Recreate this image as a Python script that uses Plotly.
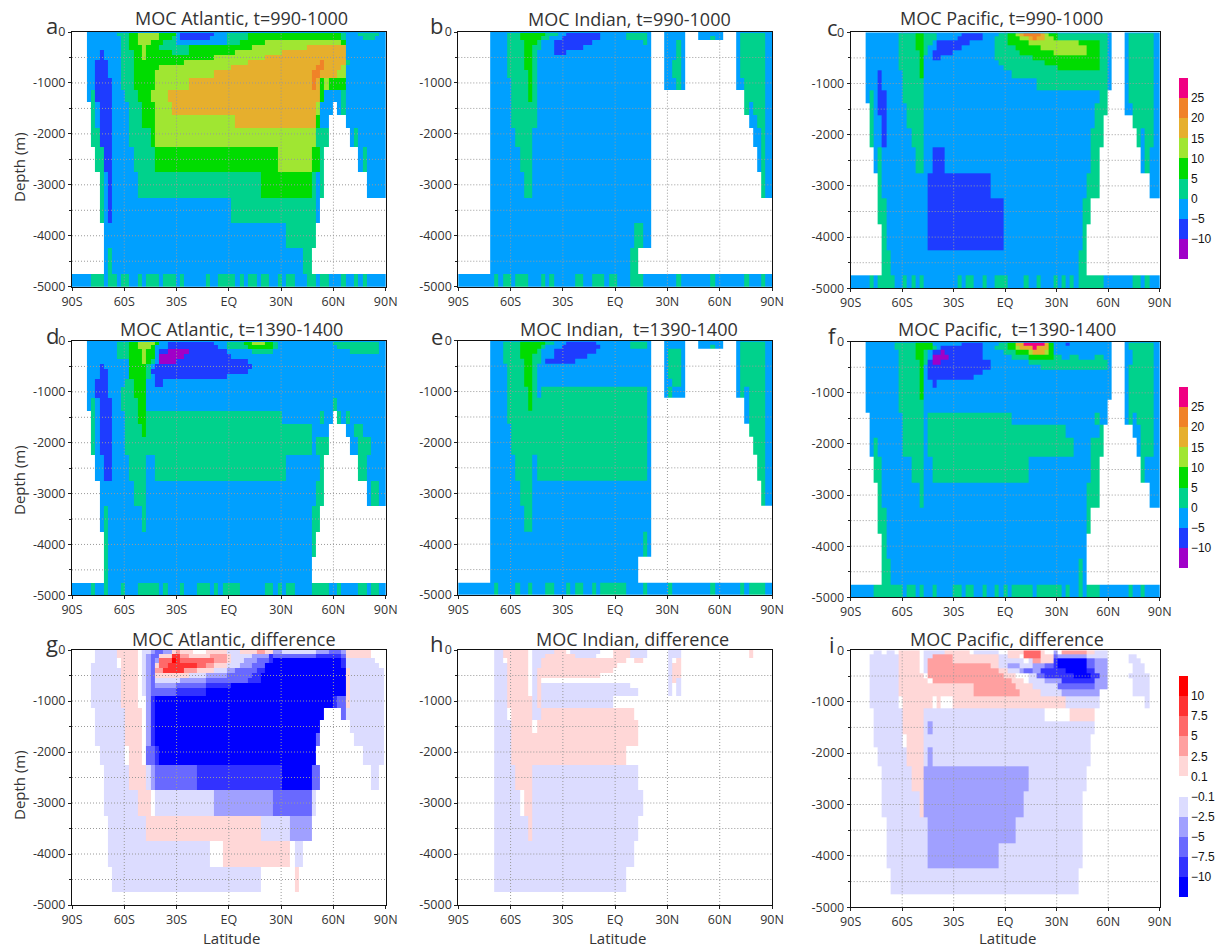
import numpy as np
import plotly.graph_objects as go

# 21 depth layers (m) and 75 latitude points, 90S..90N
DEPTH_EDGES = [0, 25, 75, 150, 250, 350, 450, 550, 650, 750, 900, 1130, 1380, 1630, 1880,
               2250, 2750, 3250, 3750, 4250, 4750, 5000]
N_LAT = 75

# each row (top to bottom): "<first lat index><class>" runs, white before the first run
ATL_990 = [
    "4s",
    "4s 11t 14g 16l 21g 25s 26B 34s 37t 42g 64t 65s 68t 73s",
    "4s 12t 14g 16l 21g 24t 25s 26B 33s 37t 42g 64t 65s 69t 72s",
    "4s 12t 14g 16l 19g 22t 25s 37t 40g 46l 64g 65s",
    "4s 12t 14g 17l 18g 21t 28g 43l 56a 65s",
    "4s 7B 8s 12t 15g 17l 18g 24t 28g 39l 50a 65s",
    "4s 7B 8s 12t 15g 17l 18g 34l 46a 65s",
    "4s 6B 9s 12t 15g 27l 42a 59o 60a 65t 66s",
    "4s 6B 9s 12t 15g 21l 38a 58o 60a 64l 65s",
    "4s 6B 9s 12t 15g 20l 34a 57o 59a 63l 65s",
    "4s 6B 10s 12t 15g 20l 28a 57o 58a 59g 60l 61g 65s",
    "4s 5t 6B 10s 13t 16g 19l 23a 59g 60s 64t 65s",
    "5t 6s 7B 10s 14t 17g 20l 24a 58l 59s 62. 63s 64t 65s",
    "5t 6s 7B 10s 14t 17g 20l 39a 58g 59s 61. 65s",
    "5t 7B 10s 14t 19g 20l 58t 61. 66s 67t 68s",
    "6t 8B 10s 15t 20g 49l 57g 59t 60. 68s 69t 70s",
    "7t 8s 9B 10s 16t 45g 57t 58s 59t 60. 70s",
    "7t 8s 9B 10s 38t 58s 59.",
    "8s 51t 58.",
    "8s 9t 10s 55t 57.",
    "0s 5t 8s 9t 11s 12t 14s 16t 17s 18t 21s 22t 25s 26t 27s 32t 33s 35t 39s 40t 41s 42t 44s 45t 47s 49t 50s 51t 53s 56t 58s 59t 61s 64t 65s 67t 68s 69t 70s",
]
IND_990 = [
    "8s 46. 49s 54. 57s 63. 66s",
    "8s 12t 15g 21t 24s 26B 34s 40t 45s 46. 49s 54. 57s 63. 66s 67t 73s",
    "8s 12t 15g 20t 22s 25B 34s 40t 45s 46. 49s 54. 57s 60t 61s 63. 66s 67t 73s",
    "8s 12t 16g 19t 20s 23B 32s 44t 45s 46. 49s 52t 53s 54. 66s 67t 73s",
    "8s 12t 16g 18t 20s 23B 30s 46. 49s 52t 53s 54. 66s 67t 73s",
    "8s 12t 16g 18t 19s 23B 26s 46. 49s 52t 53s 54. 66s 67t 73s",
    "8s 12t 16g 18t 19s 46. 49s 52t 53s 54. 66s 67t 73s",
    "8s 12t 16g 18t 19s 46. 49s 51t 53s 54. 66s 67t 73s",
    "8s 12t 16g 18t 19s 46. 49s 51t 53s 54. 66s 67t 73s",
    "8s 12t 17g 18t 19s 46. 49s 51t 53s 54. 66s 67t 73s",
    "8s 13t 17g 18t 19s 46. 49s 52t 53s 54. 66s 68t 73s",
    "8s 13t 17g 18t 19s 46. 68t 73s",
    "8s 13t 19s 46. 68t 69s 70t 73s",
    "8s 13t 19s 46. 69s 71t 73s",
    "8s 14t 18s 46. 70s 72t 73s",
    "8s 15t 18s 46. 71s 72t 73s",
    "8s 16t 18s 46. 72t 73s",
    "8s 46.",
    "8s 42t 44s 46.",
    "8s 41t 43.",
    "0s 9t 10s 11t 13s 14t 17s 20t 21s 22t 23s 28t 30s 32t 35s 36t 38s 41t 44s 52t 53s 60t 61s 68t 69s 72t 73s",
]
PAC_990 = [
    "4s 63. 66s",
    "4s 12t 16g 18t 21s 27B 32s 36t 38g 40l 41a 42o 46a 47l 48g 50t 62s 63. 66s 67t 73s",
    "4s 12t 16g 18t 21s 26B 32s 35t 38g 41l 43a 44o 45a 47l 49g 50t 62s 63. 66s 67t 73s",
    "4s 12t 16g 18t 20s 21B 29s 35t 38g 43l 55g 60t 62s 63. 66s 67t 73s",
    "4s 12t 16g 18t 19s 21B 27s 35t 40g 46l 57g 60t 62s 63. 66s 67t 73s",
    "4s 12t 17g 18t 19s 20B 25s 35t 41g 49l 57g 60t 62s 63. 66s 67t 73s",
    "4s 12t 17g 18s 20B 22s 35t 44g 60t 62s 63. 66s 67t 73s",
    "4s 12t 17g 18s 36t 47g 60t 62s 63. 66s 67t 73s",
    "4s 12t 17g 18s 37t 50g 60t 62s 63. 66s 67t 73s",
    "4s 7B 8s 13t 17g 18s 39t 62s 63. 66s 67t 73s",
    "4s 7B 8s 13t 18s 45t 62s 63. 66s 67t 73s",
    "4s 5t 6s 7B 9s 13t 18s 60t 62. 66s 67t 73s",
    "5t 6s 7B 9s 14t 18s 59t 62. 66s 68t 73s",
    "5t 6s 8B 9s 14t 18s 59t 61. 68t 73s",
    "5t 6s 8B 9s 15t 18s 58t 61. 69t 70s 71t 73s",
    "6s 7t 8s 16t 18s 20B 23s 58t 60. 70s 71t 72s",
    "7t 8s 19B 34s 57t 60. 72s",
    "7t 9s 19B 37s 56t 58.",
    "8t 9s 19B 37s 56t 57.",
    "8t 10s 55t 57.",
    "0s 5t 6s 7t 11s 13t 14s 15t 16s 17t 18s 26t 27s 28t 30s 32t 33s 35t 38s 42t 43s 45t 46s 49t 50s 51t 52s 53t 54s 55t 61s 68t 70s 71t 72s",
]
ATL_1390 = [
    "4s",
    "4s 11t 14g 16l 20g 21s 23B 34s 37t 41g 43l 46g 48t 49s 62t 73s",
    "4s 11t 14g 16l 19g 20s 23B 35s 37t 42g 48t 49s 63t 73s",
    "4s 11t 14g 17l 18g 20s 21B 23p 28B 37s 43t 48s 66t 73s",
    "4s 11t 14g 17l 18g 20s 21p 27B 38s",
    "4s 14g 17l 18g 19t 20s 21p 25B 42s",
    "4s 7B 8s 14g 18t 19s 20B 43s",
    "4s 7B 9s 14g 18t 19B 42s",
    "4s 7B 9s 14g 18t 19s 20B 37s",
    "4s 6B 9s 13t 15g 18s 20B 22s",
    "4s 6B 9s 12t 15g 18s",
    "4s 5t 6s 7B 10s 12t 16g 18s 62t 63s",
    "5t 6s 7B 10s 13t 16g 18t 50s 59t 60s 62. 63t 64s 65t 66s",
    "5t 6s 7B 10s 13t 17g 18t 57s 61. 65s 67t 69s",
    "5t 6s 7B 10s 13t 57s 58t 61. 66s 68t 71s",
    "6s 8B 10s 14t 18s 20t 51s 59t 60. 68t 70s",
    "7s 15t 18s 58t 60. 70s 71t 73s",
    "7s 8t 9s 17t 18s 57t 59.",
    "8t 9s 57t 58.",
    "8t 9s 57.",
    "0s 5t 6s 8t 9s 12t 13s 16t 21s 22t 23s 26t 27s 30t 33s 34t 35s 36t 40s 46t 48s 49t 50s 51t 53s 57t 61s 63t 64s 68t 70s 71t 73s",
]
IND_1390 = [
    "8s 46. 49s 54. 57s 63. 66s",
    "8s 11t 15g 21t 23s 26B 33s 41t 45s 46. 49s 54. 57s 63. 66s 67t 73s",
    "8s 11t 15g 20t 21s 25B 34s 41t 45s 46. 49s 54. 57s 60t 61s 63. 66s 67t 73s",
    "8s 11t 15g 19t 20s 23B 33s 46. 49s 50t 53s 54. 66s 67t 73s",
    "8s 11t 15g 18t 20s 23B 31s 46. 49s 50t 53s 54. 66s 67t 73s",
    "8s 11t 16g 18t 20s 21B 28s 46. 49s 50t 53s 54. 66s 67t 73s",
    "8s 12t 16g 18t 19s 46. 49s 50t 53s 54. 66s 67t 73s",
    "8s 12t 16g 18t 19s 46. 49s 50t 53s 54. 66s 67t 73s",
    "8s 12t 16g 18t 19s 46. 49s 50t 53s 54. 66s 67t 73s",
    "8s 12t 16g 18t 19s 46. 49s 51t 53s 54. 66s 67t 73s",
    "8s 12t 17g 18t 19s 20t 45s 46. 49s 50t 51s 54. 66s 67t 68s 69t 73s",
    "8s 12t 17g 18t 45s 46. 68s 69t 73s",
    "8s 12t 45s 46. 68s 69t 73s",
    "8s 13t 45s 46. 69t 73s",
    "8s 13t 45s 46. 70t 73s",
    "8s 14t 18s 19t 45s 46. 71t 73s",
    "8s 15t 18s 46. 72t 73s",
    "8s 16t 18s 46.",
    "8s 44t 45s 46.",
    "8s 43.",
    "0s 9t 10s 14t 15s 17t 18s 21t 23s 26t 27s 28t 30s 32t 33s 34t 40s 44t 45s 50t 51s 60t 61s 67t 68s 69t 73s",
]
PAC_1390 = [
    "4s 63. 66s",
    "4s 11t 16g 20s 27B 32s 36t 38g 40a 42k 47a 48g 49s 52B 53s 63. 66s 67t 73s",
    "4s 11t 16g 20t 21s 22B 32s 35t 38g 40l 41a 44k 45a 48g 49s 63. 66s 67t 73s",
    "4s 12t 16g 18t 19s 20B 22p 23B 32s 37t 40g 43l 44a 47l 48g 49s 63. 66s 68t 73s",
    "4s 12t 16g 18t 19s 20p 24B 32s 39t 43g 49t 51s 53t 55s 59t 61s 63. 66s 68t 73s",
    "4s 12t 17g 18t 19B 20p 22B 34s 43t 62s 63. 66s 68t 73s",
    "4s 12t 17g 18s 19B 34s 46t 62s 63. 66s 67t 73s",
    "4s 12t 17g 18s 19B 32s 63. 66s 67t 73s",
    "4s 12t 17g 18s 19B 30s 63. 66s 67t 73s",
    "4s 12t 17g 18s 20B 21s 63. 66s 67t 73s",
    "4s 12t 17g 18s 63. 66s 67t 73s",
    "4s 12t 18s 62. 66s 67t 73s",
    "5s 13t 18s 19t 39s 59t 60s 62. 66s 67t 68s 69t 73s",
    "5s 13t 18s 19t 52s 60t 61. 68s 70t 73s",
    "5s 6t 7s 13t 18s 19t 54s 58t 61. 69s 70t 73s",
    "6t 8s 15t 18s 20t 43s 58t 60. 70t 71s",
    "7t 8s 17t 18s 57t 60. 72s",
    "7t 9s 57t 58.",
    "8t 9s 57.",
    "8t 10s 55t 56s 57.",
    "0s 6t 13s 14t 16s 17t 18s 20t 21s 25t 27s 28t 30s 32t 33s 35t 36s 37t 38s 39t 44s 45t 51s 52t 53s 55t 56s 57t 60s 67t 68s 70t 71s",
]
ATL_DIFF = [
    "6A 11a 16. 17A 19B 20C 22B 24a 25b 26a 29. 32a 37A 40a 44b 46a 48B 50A 58B 61C 64B 65a 71.",
    "6A 11a 16. 17A 19B 20C 22B 24a 25b 26a 29. 32a 37A 40a 44b 46a 48B 50A 58B 61C 64B 65a 71.",
    "6A 11a 16. 17A 18B 19C 21a 24d 26b 28a 33b 37a 38A 43B 47D 48C 55C 58D 64C 65a 71.",
    "6A 11. 12a 16. 17A 18B 19C 20B 21c 24e 25d 26c 34b 37a 38A 41B 44C 47D 48E 64D 65A 72.",
    "5A 11. 12a 16. 17A 18B 19C 20a 21c 23d 30c 32b 34a 37A 40B 43C 46E 64D 65A 73.",
    "5A 12a 16. 17A 18B 19C 20b 22d 27b 30a 34A 37B 39C 44D 46E 65a 66A 74.",
    "5A 12a 16. 17A 18B 19C 20a 28A 32B 37C 43D 45E 65a 66A 74.",
    "5A 12a 16. 17A 18B 19C 20A 26B 32C 42D 45E 65a 66A 74.",
    "5A 12a 16. 17A 18B 19C 20B 25C 32D 38E 65a 66A 74.",
    "5A 12a 16. 17A 18B 19C 25D 32E 65a 66A 74.",
    "5A 12a 16. 18B 19D 20E 62D 63C 65a 66A 74.",
    "6A 13a 17. 18B 19D 20E 60. 64C 65A 74.",
    "6A 13a 17. 18B 19D 20E 59. 66A 74.",
    "6A 13a 17. 18B 19D 20E 58C 59. 67A 74.",
    "7A 13. 14a 17. 18C 20D 21E 58. 69A 74.",
    "8A 14a 18A 19B 20C 30D 50E 57C 59. 71A 73.",
    "8A 16a 19. 20A 34B 48C 57A 58.",
    "9A 18a 45A 52B 57.",
    "9A 33. 36a 52. 53A 55.",
    "10A 45. 53a 54.",
    "0.",
]
IND_DIFF = [
    "9A 11a 17. 18A 23a 26. 27A 34. 37a 41A 45. 50A 53. 69a 70.",
    "9A 11a 17. 18A 23a 26. 27A 34. 37a 41A 45. 50A 53. 69a 70.",
    "9A 11a 17. 18A 21a 28A 33. 37a 41A 45. 50A 53. 69a 70.",
    "9A 11. 12a 17. 18A 20a 40. 42a 44. 50A 51. 52a 53.",
    "9A 12a 17. 18A 20a 38. 50A 51a 53.",
    "9A 12a 17. 18A 19a 37. 50A 51a 53.",
    "9A 12a 17. 18A 19a 34. 50A 51a 53.",
    "9A 12a 17. 18A 19a 20. 50A 51a 52A 53.",
    "9A 12a 17. 18A 19a 20A 41. 50A 51. 52A 53.",
    "9A 12a 17. 18A 19a 20A 43. 50A 51. 52A 53.",
    "9A 12a 18A 19a 20A 37.",
    "9A 12. 13a 18A 20a 42.",
    "9A 13a 18. 19a 43.",
    "9A 13a 43.",
    "9A 13a 40.",
    "9A 14a 18A 43.",
    "9A 15. 16a 18A 44.",
    "9A 17a 18A 43.",
    "9A 42.",
    "9A 40.",
    "0.",
]
PAC_DIFF = [
    "6A 8. 9A 11. 12a 17. 18A 23a 29. 30A 36. 38a 42c 46a 47. 49B 50. 51b 57a 59A 62.",
    "6A 8. 9A 11. 12a 17. 18A 23a 29. 30A 36. 38a 42c 46a 47. 49B 50. 51b 57a 59A 62.",
    "5A 12a 17. 18A 20b 25a 36A 38a 41. 42c 46a 49C 50B 57A 62. 67A 69.",
    "5A 12a 17. 18A 19b 25a 36A 42. 43A 44b 46a 49D 50E 57C 59B 62. 67A 70.",
    "5A 12a 17. 18A 19b 34a 36A 38B 41A 44B 47C 49D 50E 57C 59B 62. 68A 71.",
    "5A 12a 17. 18A 19b 36a 38A 41B 42C 44B 46D 52E 57D 59B 62. 68A 71.",
    "5A 12a 18. 19b 37a 40. 43A 45C 47D 54E 58D 60B 62. 67A 72.",
    "5A 12a 19. 20b 39a 42. 43A 47B 51D 59B 62. 68A 72.",
    "5A 12a 30b 40a 44A 50C 59B 62. 68A 72.",
    "5A 12a 30b 41a 46A 51B 60. 68A 72.",
    "5A 12. 13a 20. 21a 22. 25a 52A 60. 71A 72.",
    "6A 13a 18A 47. 53a 59.",
    "6A 13a 18A 19B 20A 59.",
    "6A 13. 14a 18A 58.",
    "7A 14a 18A 19B 20A 58.",
    "8A 15a 18B 43A 57.",
    "8A 17a 18B 42A 56.",
    "9A 19B 40A 56.",
    "9A 19B 36A 56.",
    "10A 55.",
    "0.",
]

MOC_CLASSES = "pBstglaok"
MOC_COLORS = ["#a000c8", "#1e3cff", "#00a0ff", "#00d28c", "#00dc00", "#a0e632", "#e6af2d", "#f08228", "#f00082"]
MOC_LABELS = ["\u221210", "\u22125", "0", "5", "10", "15", "20", "25"]
DIFF_CLASSES = "EDCBA-abcde"
DIFF_COLORS = ["#0000ff", "#3232ff", "#6969ff", "#a0a0ff", "#dcdcff", "#ffffff",
               "#ffd7d7", "#ffa0a0", "#ff6969", "#ff3232", "#ff0000"]
DIFF_LABELS = ["\u221210", "\u22127.5", "\u22125", "\u22122.5", "\u22120.1", "0.1", "2.5", "5", "7.5", "10"]

LAT_TICKS = [-90, -60, -30, 0, 30, 60, 90]
LAT_LABELS = ["90S", "60S", "30S", "EQ", "30N", "60N", "90N"]
DEPTH_TICKS = [0, -1000, -2000, -3000, -4000, -5000]
DEPTH_LABELS = ["0", "-1000", "-2000", "-3000", "-4000", "-5000"]
DEPTH_MINOR = [-500, -1500, -2500, -3500, -4500]

W, H = 1217, 947
FONT = "Open Sans"
TEXT = "#333333"
GRID = dict(color="#9a9a9a", width=1, dash="1px,2px")
# (letter, title, rows, classes, coloraxis, left, right, top, bottom, title x, title y, letter x, letter y)
PANELS = [
    ("a", "MOC Atlantic, t=990-1000", ATL_990, MOC_CLASSES, "coloraxis", 72, 385.7, 32, 286.7, 241, 18, 52, 25),
    ("b", "MOC Indian, t=990-1000", IND_990, MOC_CLASSES, "coloraxis", 458.3, 772, 32, 286.7, 629, 19, 437, 25),
    ("c", "MOC Pacific, t=990-1000", PAC_990, MOC_CLASSES, "coloraxis", 850.7, 1159.7, 32.3, 288.3, 1001, 18, 832, 27),
    ("d", "MOC Atlantic, t=1390-1400", ATL_1390, MOC_CLASSES, "coloraxis2", 72, 385.7, 341, 595.3, 232, 329, 52, 335),
    ("e", "MOC Indian,  t=1390-1400", IND_1390, MOC_CLASSES, "coloraxis2", 458.3, 772, 340.7, 595, 629, 329, 437, 336),
    ("f", "MOC Pacific,  t=1390-1400", PAC_1390, MOC_CLASSES, "coloraxis2", 850.7, 1159.7, 341.7, 597.3, 1007, 329, 832, 335),
    ("g", "MOC Atlantic, difference", ATL_DIFF, DIFF_CLASSES, "coloraxis3", 72, 385.7, 650, 905, 234, 639, 52, 643),
    ("h", "MOC Indian, difference", IND_DIFF, DIFF_CLASSES, "coloraxis3", 458.3, 772, 650, 905, 632.5, 639, 437, 643),
    ("i", "MOC Pacific, difference", PAC_DIFF, DIFF_CLASSES, "coloraxis3", 850.7, 1159.7, 650.3, 907.3, 1007, 639, 832, 644),
]


def expand(rows, classes):
    z = []
    for row in rows:
        cells = [None] * N_LAT
        tokens = row.split()
        for i, tok in enumerate(tokens):
            if tok[-1] == ".":
                continue
            start = int(tok[:-1])
            end = int(tokens[i + 1][:-1]) if i + 1 < len(tokens) else N_LAT
            cells[start:end] = [classes.index(tok[-1]) + 0.5] * (end - start)
        z.append(cells)
    return z[::-1]


def stepped(colors):
    n = len(colors)
    scale = []
    for i, c in enumerate(colors):
        scale += [[i / n, c], [(i + 1) / n, c]]
    return scale


def color_axis(colors, labels, top, bottom):
    return dict(
        cmin=0, cmax=len(colors), colorscale=stepped(colors),
        colorbar=dict(
            x=1179 / W, xanchor="left", y=1 - top / H, yanchor="top", thickness=9,
            len=bottom - top, lenmode="pixels", xpad=0, ypad=0, outlinewidth=0,
            tickmode="array", tickvals=list(range(1, len(labels) + 1)), ticktext=labels,
            ticks="", ticklabelposition="outside",
            tickfont=dict(family="Liberation Sans", size=12, color="#111111"),
        ),
    )


def label(text, x, y, size, **kw):
    return dict(text=text, x=x / W, y=1 - y / H, xref="paper", yref="paper", showarrow=False,
                xanchor="center", yanchor="middle", font=dict(size=size, color=TEXT), **kw)


def main():
    lat = np.linspace(-90, 90, N_LAT)
    depth = [-d for d in DEPTH_EDGES[::-1]]
    fig = go.Figure()
    layout = dict(
        width=W, height=H, margin=dict(l=0, r=0, t=0, b=0, autoexpand=False),
        paper_bgcolor="white", plot_bgcolor="white",
        font=dict(family=FONT, color=TEXT), showlegend=False,
        coloraxis=color_axis(MOC_COLORS, MOC_LABELS, 78, 259),
        coloraxis2=color_axis(MOC_COLORS, MOC_LABELS, 387, 568),
        coloraxis3=color_axis(DIFF_COLORS, DIFF_LABELS, 676, 897),
    )
    ann = []
    for i, p in enumerate(PANELS):
        letter, title, rows, classes, cax, left, right, top, bottom, tx, ty, lx, ly = p
        k = "" if i == 0 else str(i + 1)
        fig.add_trace(go.Heatmap(x=lat, y=depth, z=expand(rows, classes), coloraxis=cax,
                                 xaxis="x" + k, yaxis="y" + k, hoverongaps=False))
        layout["xaxis" + k] = dict(
            domain=[left / W, right / W], anchor="y" + k, range=[-90, 90],
            tickmode="array", tickvals=LAT_TICKS, ticktext=LAT_LABELS, ticks="outside", ticklen=3,
            tickcolor="#222222", showgrid=False, zeroline=False, showline=True, linecolor="#111111",
            linewidth=1, mirror=True, tickfont=dict(size=12.5, color=TEXT),
        )
        layout["yaxis" + k] = dict(
            domain=[1 - bottom / H, 1 - top / H], anchor="x" + k, range=[-5000, 0],
            tickmode="array", tickvals=DEPTH_TICKS, ticktext=DEPTH_LABELS, ticks="outside", ticklen=3,
            tickcolor="#222222", showgrid=False, zeroline=False, showline=True, linecolor="#111111",
            linewidth=1, mirror=True, tickfont=dict(size=12.5, color=TEXT),
            minor=dict(tickvals=DEPTH_MINOR, ticks="outside", ticklen=2, tickcolor="#222222"),
        )
        # the dotted grid runs over the colours
        for v in LAT_TICKS[1:-1]:
            fig.add_shape(type="line", xref="x" + k, yref="y" + k, x0=v, x1=v, y0=-5000, y1=0, line=GRID)
        for v in DEPTH_TICKS[1:-1] + DEPTH_MINOR:
            fig.add_shape(type="line", xref="x" + k, yref="y" + k, x0=-90, x1=90, y0=v, y1=v, line=GRID)
        ann.append(label(title, tx, ty, 18))
        ann.append(label(letter, lx, ly, 22))
    for y in [167, 480, 785]:
        ann.append(label("Depth (m)", 19, y, 15, textangle=-90))
    for x in [231, 617, 1007]:
        ann.append(label("Latitude", x, 938, 15))
    layout["annotations"] = ann
    fig.update_layout(**layout)
    fig.write_html("out.html", config={"displayModeBar": False},
                   post_script="document.body.style.margin='0';")


if __name__ == "__main__":
    main()
